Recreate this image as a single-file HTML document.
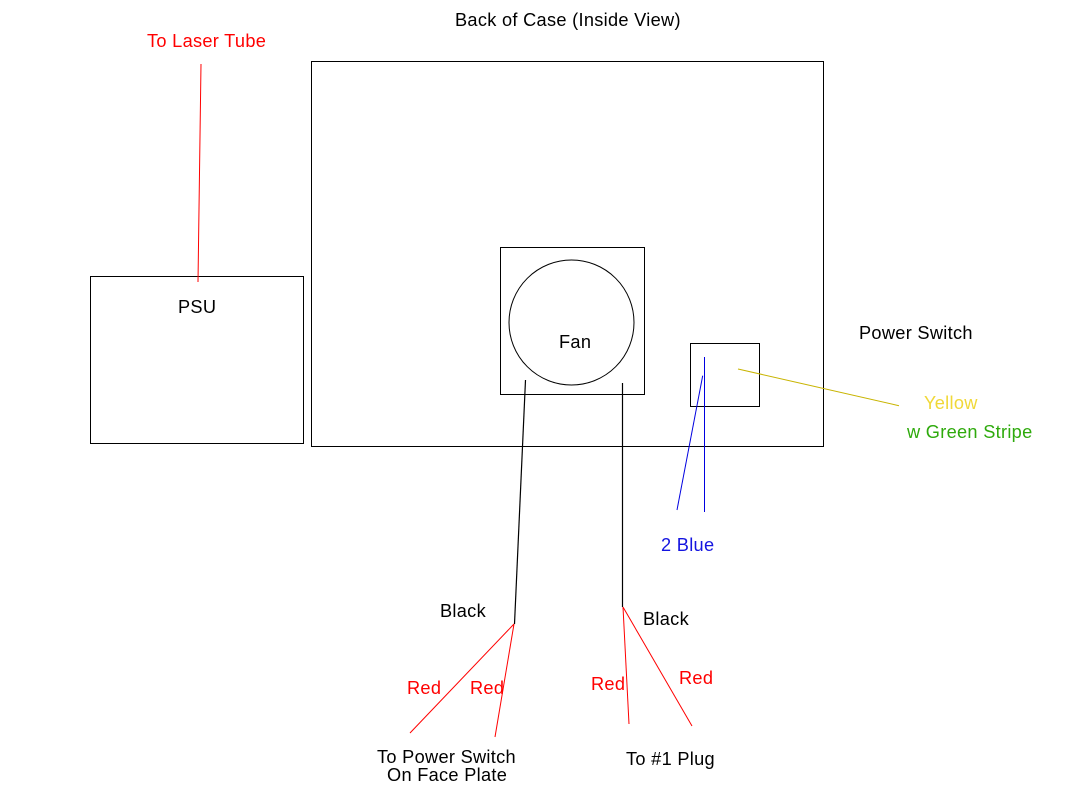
<!DOCTYPE html>
<html>
<head>
<meta charset="utf-8">
<style>
html,body{margin:0;padding:0;background:#fff;}
svg{display:block;}
text{font-family:"Liberation Sans",Arial,sans-serif;font-size:18.2px;letter-spacing:0.3px;}
</style>
</head>
<body>
<svg width="1067" height="786" viewBox="0 0 1067 786" xmlns="http://www.w3.org/2000/svg">
<rect x="0" y="0" width="1067" height="786" fill="#fff"/>
<!-- rectangles -->
<g fill="none" stroke="#000" stroke-width="1" shape-rendering="crispEdges">
<rect x="311.5" y="61.5" width="512" height="385"/>
<rect x="90.5" y="276.5" width="213" height="167"/>
<rect x="500.5" y="247.5" width="144" height="147"/>
<rect x="690.5" y="343.5" width="69" height="63"/>
</g>
<circle cx="571.5" cy="322.5" r="62.5" fill="none" stroke="#000" stroke-width="1"/>
<!-- laser tube wire -->
<polyline points="201,64 200.5,100 198,282" fill="none" stroke="#f00" stroke-width="1"/>
<!-- fan wires -->
<line x1="525.5" y1="380" x2="514.5" y2="624" stroke="#000" stroke-width="1.2"/>
<line x1="622.5" y1="383" x2="622.5" y2="607" stroke="#000" stroke-width="1.2"/>
<!-- red wires -->
<g stroke="#f00" stroke-width="1" fill="none">
<line x1="514" y1="624" x2="410" y2="733"/>
<line x1="514" y1="624" x2="495" y2="737"/>
<line x1="623" y1="607" x2="629" y2="724"/>
<line x1="623" y1="607" x2="692" y2="726"/>
</g>
<!-- blue wires -->
<g stroke="#0000e0" stroke-width="1" fill="none">
<line x1="704.5" y1="357" x2="704.5" y2="512"/>
<line x1="702.7" y1="375.7" x2="677" y2="510"/>
</g>
<!-- yellow wire -->
<line x1="738" y1="369" x2="899" y2="405.7" stroke="#c8b400" stroke-width="1"/>
<!-- labels -->
<text x="455" y="26" fill="#000">Back of Case (Inside View)</text>
<text x="147" y="47" fill="#f00">To Laser Tube</text>
<text x="178" y="313" fill="#000">PSU</text>
<text x="559" y="348" fill="#000">Fan</text>
<text x="859" y="339" fill="#000">Power Switch</text>
<text x="924" y="409" fill="#f0d838">Yellow</text>
<text x="907" y="438" fill="#2eaa0c">w Green Stripe</text>
<text x="661" y="551" fill="#1414e0">2 Blue</text>
<text x="440" y="617" fill="#000">Black</text>
<text x="643" y="625" fill="#000">Black</text>
<text x="407" y="694" fill="#f00">Red</text>
<text x="470" y="694" fill="#f00">Red</text>
<text x="591" y="690" fill="#f00">Red</text>
<text x="679" y="684" fill="#f00">Red</text>
<text x="377" y="763" fill="#000">To Power Switch</text>
<text x="387" y="781" fill="#000">On Face Plate</text>
<text x="626" y="765" fill="#000">To #1 Plug</text>
</svg>
</body>
</html>
